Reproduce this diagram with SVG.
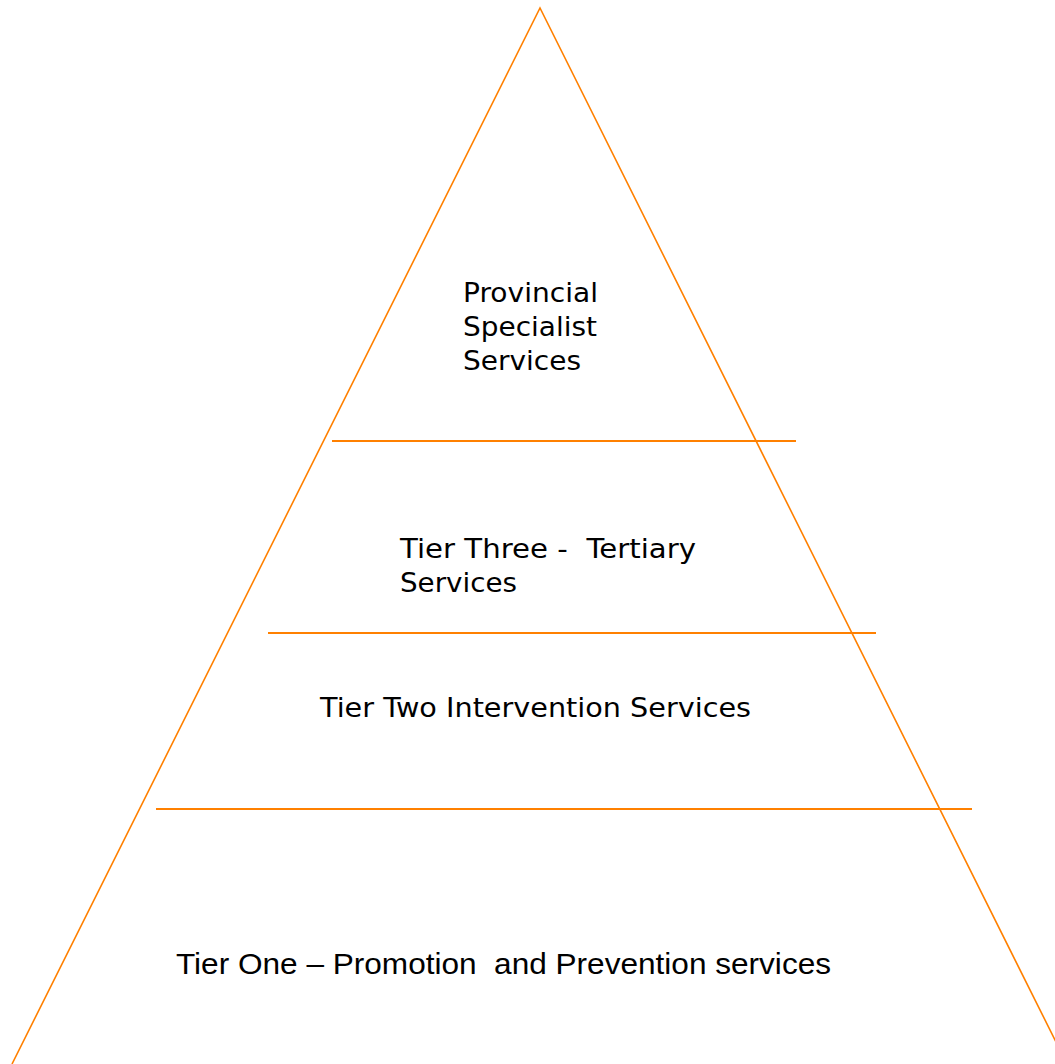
<svg xmlns="http://www.w3.org/2000/svg" width="1055" height="1064" viewBox="0 0 1055 1064">
<style>
.ln{stroke:#FF8000;fill:none}
.t{font-family:"DejaVu Sans",Verdana,sans-serif;font-size:26px;fill:#000}
.n{font-family:"Liberation Sans",Arial,sans-serif;font-size:29px;fill:#000}
</style>
<rect width="1055" height="1064" fill="#fff"/>
<g id="connectors">
<polyline class="ln" stroke-width="1.6" points="12,1064 540,8 1056,1042"/>
<line class="ln" stroke-width="2" x1="332" y1="441" x2="796" y2="441"/>
<line class="ln" stroke-width="2" x1="268" y1="633" x2="876" y2="633"/>
<line class="ln" stroke-width="2" x1="156" y1="809" x2="972" y2="809"/>
</g>
<g id="provincial">
<text class="t" x="463" y="302" textLength="135" lengthAdjust="spacingAndGlyphs">Provincial</text>
<text class="t" x="463" y="336" textLength="134" lengthAdjust="spacingAndGlyphs">Specialist</text>
<text class="t" x="463" y="370" textLength="118" lengthAdjust="spacingAndGlyphs">Services</text>
</g>
<g id="tier3">
<text class="t" x="400" y="558" xml:space="preserve" textLength="296" lengthAdjust="spacingAndGlyphs">Tier Three -  Tertiary</text>
<text class="t" x="400" y="592" textLength="117" lengthAdjust="spacingAndGlyphs">Services</text>
</g>
<g id="tier2">
<text class="t" x="320" y="717" textLength="431" lengthAdjust="spacingAndGlyphs">Tier Two Intervention Services</text>
</g>
<g id="tier1">
<text class="n" x="176" y="974" xml:space="preserve" textLength="655" lengthAdjust="spacingAndGlyphs">Tier One – Promotion  and Prevention services</text>
</g>
</svg>
